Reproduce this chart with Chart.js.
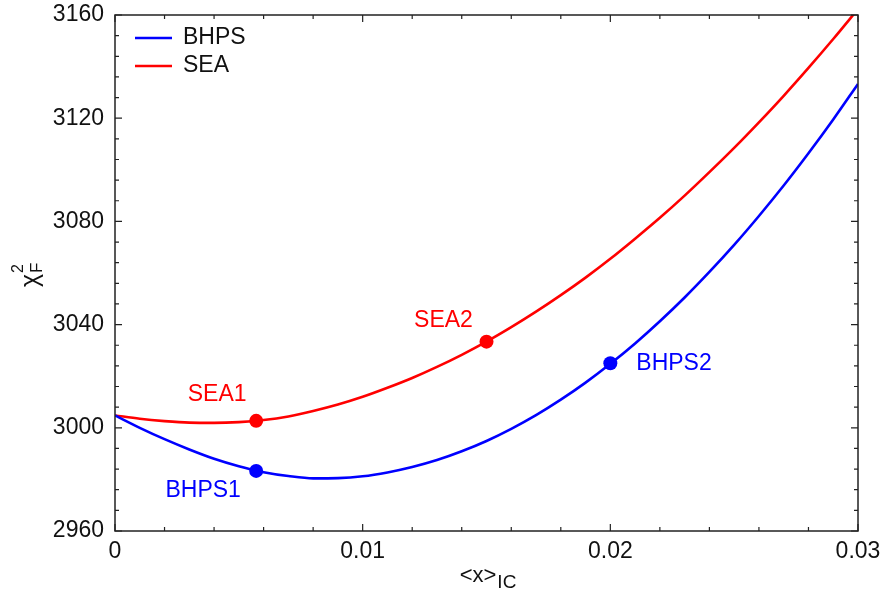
<!DOCTYPE html>
<html>
<head>
<meta charset="utf-8">
<script src="https://cdn.jsdelivr.net/npm/chart.js@4.4.1/dist/chart.umd.min.js"></script>
<style>
html,body{margin:0;padding:0;background:#fff;}
#wrap{width:887px;height:590px;position:relative;}
</style>
</head>
<body>
<div id="wrap"><canvas id="c" width="887" height="590"></canvas></div>
<script>
// ---- data ----
const xValues = [0,0.001,0.002,0.003,0.004,0.005,0.006,0.007,0.008,0.009,0.010,
  0.011,0.012,0.013,0.014,0.015,0.016,0.017,0.018,0.019,0.020,
  0.021,0.022,0.023,0.024,0.025,0.026,0.027,0.028,0.029,0.030];
const seaValues = [3004.8,3003.5,3002.6,3002.0,3001.9,3002.2,3003.0,3004.4,3006.5,3009.0,3012.0,
  3015.5,3019.3,3023.6,3028.3,3033.4,3039.0,3045.0,3051.4,3058.2,3065.5,
  3073.3,3081.4,3090.0,3099.1,3108.5,3118.4,3128.7,3139.5,3150.7,3162.3];
const bhpsValues = [3004.8,3000.0,2995.6,2991.6,2988.0,2985.1,2982.8,2981.3,2980.4,2980.5,2981.2,
  2982.7,2984.8,2987.5,2990.9,2994.9,2999.6,3004.9,3010.9,3017.5,3024.8,
  3032.7,3041.3,3050.5,3060.4,3070.9,3082.1,3093.9,3106.4,3119.5,3133.3];
const seaPointNames = ['SEA1','SEA2'];
const seaPointX = [0.0057, 0.0150];
const seaPointY = [3002.7, 3033.4];
const bhpsPointNames = ['BHPS1','BHPS2'];
const bhpsPointX = [0.0057, 0.0200];
const bhpsPointY = [2983.3, 3025.0];
const xTickLabels = ['0','0.01','0.02','0.03'];
const yTickLabels = ['2960','3000','3040','3080','3120','3160'];
const seriesNames = ['BHPS','SEA'];

const FONT = "'Liberation Sans', Arial, Helvetica, sans-serif";
const BLUE = '#0000ff', RED = '#ff0000';

const toXY = (xs, ys) => xs.map((x, i) => ({x: x, y: ys[i]}));

const annotations = [
  {ds: 2, idx: 0, dx: -39, dy: -26, align: 'center', color: RED},
  {ds: 2, idx: 1, dx: -43, dy: -21, align: 'center', color: RED},
  {ds: 3, idx: 0, dx: -53, dy: 20, align: 'center', color: BLUE},
  {ds: 3, idx: 1, dx: 26, dy: 0, align: 'left', color: BLUE}
];

const decor = {
  id: 'decor',
  afterDraw(chart) {
    const ctx = chart.ctx;
    const a = chart.chartArea;
    const xs = chart.scales.x, ys = chart.scales.y;
    ctx.save();
    // frame
    ctx.strokeStyle = '#222';
    ctx.lineWidth = 1.5;
    ctx.strokeRect(a.left, a.top, a.right - a.left, a.bottom - a.top);
    // ticks (inward, mirrored)
    ctx.lineWidth = 1.2;
    ctx.beginPath();
    for (let i = 0; i <= 15; i++) {
      const v = i * 0.002;
      const px = xs.getPixelForValue(v);
      const len = (i % 5 === 0) ? 7 : 4;
      ctx.moveTo(px, a.bottom); ctx.lineTo(px, a.bottom - len);
      ctx.moveTo(px, a.top); ctx.lineTo(px, a.top + len);
    }
    for (let i = 0; i <= 25; i++) {
      const v = 2960 + i * 8;
      const py = ys.getPixelForValue(v);
      const len = (i % 5 === 0) ? 7 : 4;
      ctx.moveTo(a.left, py); ctx.lineTo(a.left + len, py);
      ctx.moveTo(a.right, py); ctx.lineTo(a.right - len, py);
    }
    ctx.stroke();

    // legend
    const legendSets = [0, 1];
    legendSets.forEach((di, k) => {
      const ds = chart.data.datasets[di];
      const y = a.top + 23 + k * 28;
      ctx.strokeStyle = ds.borderColor;
      ctx.lineWidth = 2.5;
      ctx.beginPath();
      ctx.moveTo(a.left + 20, y); ctx.lineTo(a.left + 57, y);
      ctx.stroke();
      ctx.fillStyle = '#111';
      ctx.font = '23px ' + FONT;
      ctx.textAlign = 'left';
      ctx.textBaseline = 'middle';
      ctx.fillText(ds.label, a.left + 68, y);
    });

    // point annotations
    annotations.forEach(an => {
      const meta = chart.getDatasetMeta(an.ds);
      const el = meta.data[an.idx];
      const name = chart.data.datasets[an.ds].names[an.idx];
      ctx.fillStyle = an.color;
      ctx.font = '23px ' + FONT;
      ctx.textAlign = an.align;
      ctx.textBaseline = 'middle';
      ctx.fillText(name, el.x + an.dx, el.y + an.dy);
    });

    // x axis title: <x>_IC
    ctx.fillStyle = '#111';
    ctx.textBaseline = 'alphabetic';
    ctx.textAlign = 'left';
    ctx.font = '22px ' + FONT;
    const main = '<x>';
    const sub = 'IC';
    const wMain = ctx.measureText(main).width;
    ctx.font = '19px ' + FONT;
    const wSub = ctx.measureText(sub).width;
    const cx = (a.left + a.right) / 2;
    const startX = cx - (wMain + wSub) / 2 + 1;
    ctx.font = '22px ' + FONT;
    ctx.fillText(main, startX, 582);
    ctx.font = '19px ' + FONT;
    ctx.fillText(sub, startX + wMain + 1, 588);

    // y axis title: chi^2_F (rotated)
    ctx.save();
    ctx.translate(38, 287);
    ctx.rotate(-Math.PI / 2);
    ctx.font = '25px ' + FONT;
    ctx.textAlign = 'left';
    ctx.fillText('χ', 0, 0);
    const wChi = ctx.measureText('χ').width;
    ctx.font = '16px ' + FONT;
    ctx.fillText('2', wChi + 1, -15);
    ctx.font = '17px ' + FONT;
    ctx.fillText('F', wChi + 1, 4);
    ctx.restore();

    ctx.restore();
  }
};

new Chart(document.getElementById('c'), {
  type: 'line',
  data: {
    datasets: [
      {label: seriesNames[0], data: toXY(xValues, bhpsValues), borderColor: BLUE, backgroundColor: BLUE,
       borderWidth: 2.6, pointRadius: 0, cubicInterpolationMode: 'monotone', order: 1, fill: false},
      {label: seriesNames[1], data: toXY(xValues, seaValues), borderColor: RED, backgroundColor: RED,
       borderWidth: 2.6, pointRadius: 0, cubicInterpolationMode: 'monotone', order: 1, fill: false},
      {label: 'SEA points', names: seaPointNames, data: toXY(seaPointX, seaPointY), type: 'scatter',
       showLine: false, pointRadius: 7, pointBackgroundColor: RED, pointBorderColor: RED, pointBorderWidth: 0, order: 0},
      {label: 'BHPS points', names: bhpsPointNames, data: toXY(bhpsPointX, bhpsPointY), type: 'scatter',
       showLine: false, pointRadius: 7, pointBackgroundColor: BLUE, pointBorderColor: BLUE, pointBorderWidth: 0, order: 0}
    ]
  },
  options: {
    responsive: false,
    animation: false,
    layout: {padding: {left: 0, right: 29, top: 15, bottom: 0}},
    plugins: {legend: {display: false}, tooltip: {enabled: false}, title: {display: false}},
    scales: {
      x: {
        type: 'linear', min: 0, max: 0.03,
        grid: {display: false, drawTicks: false},
        border: {display: false},
        ticks: {
          stepSize: 0.01, padding: 7, color: '#111', maxRotation: 0,
          font: {family: FONT, size: 23},
          callback: (v, i) => xTickLabels[i]
        },
        afterFit: s => { s.height = 59; s.paddingLeft = 0; s.paddingRight = 0; }
      },
      y: {
        type: 'linear', min: 2960, max: 3160,
        grid: {display: false, drawTicks: false},
        border: {display: false},
        ticks: {
          stepSize: 40, padding: 11, color: '#111',
          font: {family: FONT, size: 23},
          callback: (v, i) => yTickLabels[i]
        },
        afterFit: s => { s.width = 115; s.paddingTop = 0; s.paddingBottom = 0; }
      }
    }
  },
  plugins: [decor]
});
</script>
</body>
</html>
